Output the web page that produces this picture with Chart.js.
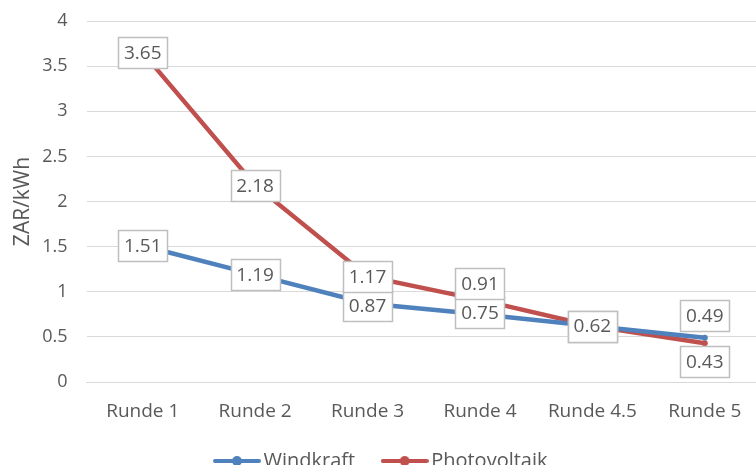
<!DOCTYPE html>
<html><head><meta charset="utf-8">
<script src="https://cdn.jsdelivr.net/npm/chart.js@4/dist/chart.umd.min.js"></script>
<style>html,body{margin:0;padding:0;overflow:hidden;background:#fff}#wrap{width:768px;height:465px}</style>
</head><body><div id="wrap"><canvas id="c"></canvas></div>
<script>
const categories = ["Runde 1","Runde 2","Runde 3","Runde 4","Runde 4.5","Runde 5"];
const windkraft = [1.51,1.19,0.87,0.75,0.62,0.49];
const photovoltaik = [3.65,2.18,1.17,0.91,0.62,0.43];
const yTicks = [0,0.5,1,1.5,2,2.5,3,3.5,4];

const FONT = "'Open Sans', 'Noto Sans', sans-serif";
const BLUE = "#4F81BD", RED = "#C0504D";

function legendIcon(color){
  const c = document.createElement('canvas');
  c.width = 48; c.height = 12;
  const g = c.getContext('2d');
  g.strokeStyle = color; g.lineWidth = 4; g.lineCap = 'round';
  g.beginPath(); g.moveTo(2,6); g.lineTo(46,6); g.stroke();
  g.fillStyle = color; g.beginPath(); g.arc(24,6,5,0,Math.PI*2); g.fill();
  return c;
}

const labelOffsets = {"0-5": -22, "1-5": 18, "1-3": -16, "0-2": 2, "0-3": -2};
const boxLabels = {
  id:'boxLabels',
  afterDatasetsDraw(chart){
    const ctx = chart.ctx;
    ctx.save();
    ctx.font = "19px " + FONT;
    ctx.textAlign = 'center'; ctx.textBaseline = 'middle';
    chart.data.datasets.forEach((ds,di)=>{
      const meta = chart.getDatasetMeta(di);
      meta.data.forEach((pt,i)=>{
        const txt = ds.data[i].toFixed(2);
        const off = labelOffsets[di+"-"+i] || 0;
        const x = pt.x, y = pt.y + off;
        const w = 49, h = 31;
        const bx = Math.round(x-w/2)+0.5, by = Math.round(y-h/2)+0.5;
        ctx.fillStyle = '#fff';
        ctx.fillRect(bx, by, w, h);
        ctx.strokeStyle = '#BFBFBF'; ctx.lineWidth = 1.5;
        ctx.strokeRect(bx, by, w, h);
        ctx.fillStyle = '#595959';
        ctx.fillText(txt, x, y+1);
      });
    });
    ctx.restore();
  }
};

new Chart(document.getElementById('c'), {
  type:'line',
  data:{
    labels: categories,
    datasets:[
      {label:'Windkraft', data:windkraft, borderColor:BLUE, backgroundColor:BLUE, borderWidth:4.5, pointRadius:3, pointBackgroundColor:BLUE, pointBorderWidth:0, tension:0},
      {label:'Photovoltaik', data:photovoltaik, borderColor:RED, backgroundColor:RED, borderWidth:4.5, pointRadius:3, pointBackgroundColor:RED, pointBorderWidth:0, tension:0}
    ]
  },
  options:{
    responsive:true, maintainAspectRatio:false, animation:false,
    layout:{padding:{top:21,left:7,right:7,bottom:-16}},
    plugins:{
      legend:{position:'bottom', labels:{usePointStyle:true, pointStyleWidth:33, font:{family:FONT,size:20}, color:'#595959', padding:33,
        generateLabels(chart){
          return chart.data.datasets.map((ds,i)=>({text:ds.label, pointStyle:legendIcon(ds.borderColor), fillStyle:ds.borderColor, strokeStyle:ds.borderColor, lineWidth:0, datasetIndex:i, fontColor:'#595959'}));
        }}},
      tooltip:{enabled:false}
    },
    scales:{
      x:{offset:true, grid:{display:false}, border:{color:'#D9D9D9', width:1},
        ticks:{font:{family:FONT,size:19}, color:'#595959', padding:10},
        afterFit(s){ s.height = 36; }},
      y:{min:0, max:4, afterBuildTicks(s){ s.ticks = yTicks.map(v=>({value:v})); },
        afterFit(s){ s.paddingTop = 0; s.paddingBottom = 0; },
        grid:{color:'#D9D9D9', lineWidth:1, drawTicks:false}, border:{display:false},
        ticks:{font:{family:FONT,size:18}, color:'#595959', padding:19, callback:(v)=>String(v)},
        title:{display:true, text:'ZAR/kWh', font:{family:FONT,size:21}, color:'#595959', padding:{top:3,bottom:-12}}}
    }
  },
  plugins:[boxLabels]
});
</script></body></html>
